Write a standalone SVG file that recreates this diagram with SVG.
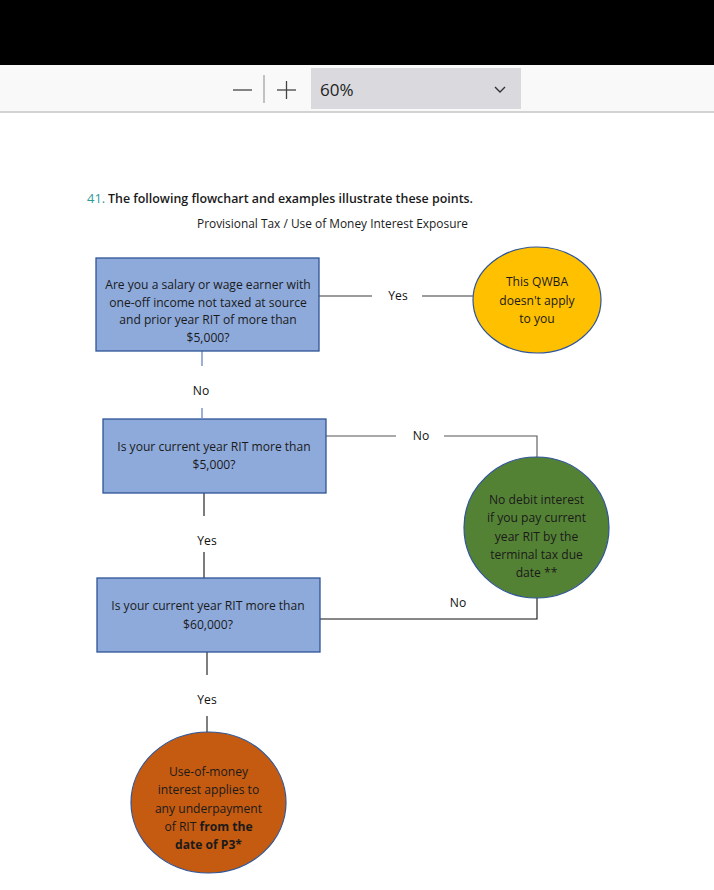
<svg xmlns="http://www.w3.org/2000/svg" width="714" height="890" viewBox="0 0 714 890">
<style>
text{font-family:"Open Sans","Noto Sans","DejaVu Sans",sans-serif;fill:#1a1a1a}
.t{font-size:12.1px;text-anchor:middle}
.box{fill:#8eaadb;stroke:#2f5597;stroke-width:1.3}
.circ{stroke:#2f5597;stroke-width:1.2}
.ln{fill:none;stroke:#3a3a3a;stroke-width:1.1}
.lbl{font-size:12.1px;text-anchor:middle;fill:#111}
</style>
<rect x="0" y="0" width="714" height="890" fill="#ffffff"/>
<g id="toolbar">
<rect x="0" y="0" width="714" height="65" fill="#000000"/>
<rect x="0" y="65" width="714" height="47" fill="#f9f9f9"/>
<line x1="0" y1="112" x2="714" y2="112" stroke="#c4c4c4" stroke-width="1.5"/>
<line x1="233" y1="90" x2="252" y2="90" stroke="#444" stroke-width="1.3"/>
<line x1="264" y1="75" x2="264" y2="103" stroke="#aaa" stroke-width="1.4"/>
<line x1="277" y1="90" x2="296" y2="90" stroke="#444" stroke-width="1.3"/>
<line x1="286.5" y1="81" x2="286.5" y2="99" stroke="#444" stroke-width="1.3"/>
<rect x="311" y="68" width="210" height="41" fill="#d9d9de"/>
<text x="320" y="95.5" style="font-size:17px;fill:#222">60%</text>
<polyline points="495,87 500,92 505,87" fill="none" stroke="#333" stroke-width="1.4"/>
</g>
<g id="heading">
<text x="87" y="203" style="font-size:13px;fill:#2e9a9a">41.</text>
<text x="108" y="203" style="font-size:12.6px;font-weight:600" textLength="365" lengthAdjust="spacingAndGlyphs">The following flowchart and examples illustrate these points.</text>
<text x="197" y="228" style="font-size:12px" textLength="271" lengthAdjust="spacingAndGlyphs">Provisional Tax / Use of Money Interest Exposure</text>
</g>
<g id="connectors">
<polyline class="ln" points="319,296 372,296"/>
<polyline class="ln" points="422,296 473,296"/>
<text class="lbl" x="398" y="300">Yes</text>
<polyline class="ln" style="stroke:#4a6fb5" points="202,351 202,366"/>
<polyline class="ln" style="stroke:#4a6fb5" points="202,408 202,418"/>
<text class="lbl" x="201" y="395">No</text>
<polyline class="ln" style="stroke:#555" points="326,436 396,436"/>
<polyline class="ln" style="stroke:#555" points="444,436 537,436 537,457"/>
<text class="lbl" x="421" y="440">No</text>
<polyline class="ln" style="stroke:#111" points="204,493 204,516"/>
<polyline class="ln" style="stroke:#111" points="204,552 204,578"/>
<text class="lbl" x="207" y="545">Yes</text>
<polyline class="ln" style="stroke:#111" points="320,619 537,619 537,598"/>
<text class="lbl" x="458" y="607">No</text>
<polyline class="ln" style="stroke:#7f7f7f;stroke-width:2" points="207,652 207,675"/>
<polyline class="ln" style="stroke:#7f7f7f;stroke-width:2" points="207,716 207,732"/>
<text class="lbl" x="207" y="704">Yes</text>
</g>
<g id="q1">
<rect class="box" x="96" y="258" width="223" height="93"/>
<text class="t" x="208" y="289">Are you a salary or wage earner with</text>
<text class="t" x="208" y="306.5">one-off income not taxed at source</text>
<text class="t" x="208" y="324">and prior year RIT of more than</text>
<text class="t" x="208" y="341.5">$5,000?</text>
</g>
<g id="yellow">
<ellipse class="circ" cx="537" cy="300" rx="64" ry="53" fill="#ffc000"/>
<text class="t" x="537" y="286">This QWBA</text>
<text class="t" x="537" y="305">doesn't apply</text>
<text class="t" x="537" y="323">to you</text>
</g>
<g id="q2">
<rect class="box" x="103" y="419" width="223" height="74"/>
<text class="t" x="214" y="451">Is your current year RIT more than</text>
<text class="t" x="214" y="469">$5,000?</text>
</g>
<g id="green">
<ellipse class="circ" cx="536.5" cy="527.5" rx="72.5" ry="70.5" fill="#548235"/>
<text class="t" x="536.5" y="504">No debit interest</text>
<text class="t" x="536.5" y="522">if you pay current</text>
<text class="t" x="536.5" y="541">year RIT by the</text>
<text class="t" x="536.5" y="559">terminal tax due</text>
<text class="t" x="536.5" y="577">date **</text>
</g>
<g id="q3">
<rect class="box" x="97" y="578" width="223" height="74"/>
<text class="t" x="208" y="610">Is your current year RIT more than</text>
<text class="t" x="208" y="629">$60,000?</text>
</g>
<g id="orange">
<ellipse class="circ" cx="208.5" cy="802.5" rx="77.5" ry="70.5" fill="#c55a11"/>
<text class="t" x="208.5" y="776">Use-of-money</text>
<text class="t" x="208.5" y="794">interest applies to</text>
<text class="t" x="208.5" y="813">any underpayment</text>
<text class="t" x="208.5" y="831">of RIT <tspan font-weight="bold">from the</tspan></text>
<text class="t" x="208.5" y="849" font-weight="bold">date of P3*</text>
</g>
</svg>
